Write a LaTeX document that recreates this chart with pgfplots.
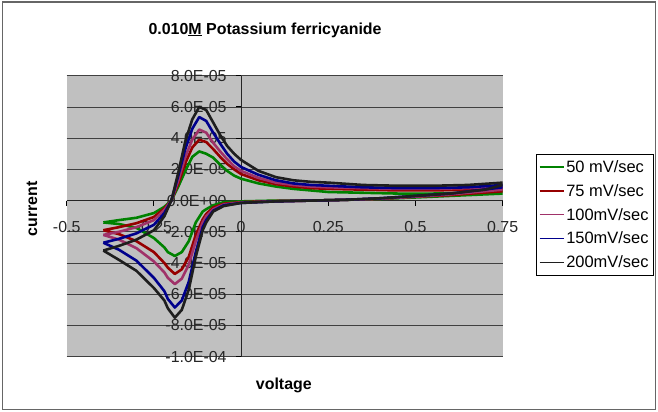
\documentclass[border=0pt]{standalone}
\usepackage{pgfplots}
\pgfplotsset{compat=1.18}
\usepackage{fontspec}
\setmainfont{Liberation Sans}
\definecolor{plotgray}{RGB}{192,192,192}
\definecolor{cvgreen}{RGB}{0,130,0}
\definecolor{cvred}{RGB}{150,0,0}
\definecolor{cvmag}{RGB}{160,50,105}
\definecolor{cvblue}{RGB}{0,0,140}
\definecolor{cvblack}{RGB}{30,30,30}
\pgfplotsset{
  legend image code/.code={\draw[#1, line width=1.2bp] (0bp,0bp) -- (24bp,0bp);},
  every axis title shift=0pt,
}
\begin{document}
\begin{tikzpicture}
\path[use as bounding box] (-66.7bp,-55.3bp) rectangle (591.3bp,356.7bp);
\draw[line width=1.2bp, color=black!60] (-64.2bp,-52.8bp) rectangle (588.8bp,354.7bp);
\begin{axis}[
  at={(0,0)}, anchor=south west,
  scale only axis, width=436bp, height=281bp,
  xmin=-0.5, xmax=0.75, ymin=-1e-4, ymax=8e-5,
  axis x line=middle, axis y line=middle,
  axis line style={-, line width=1bp, black!85},
  hide obscured x ticks=false, hide obscured y ticks=false,
  xtick={-0.5,-0.25,0,0.25,0.5,0.75},
  xticklabels={-0.5,-0.25,0,0.25,0.5,0.75},
  ytick={-1e-4,-8e-5,-6e-5,-4e-5,-2e-5,0,2e-5,4e-5,6e-5,8e-5},
  yticklabels={-1.0E-04,-8.0E-05,-6.0E-05,-4.0E-05,-2.0E-05,0.0E+00,2.0E-05,4.0E-05,6.0E-05,8.0E-05},
  scaled y ticks=false, scaled x ticks=false,
  ymajorgrids, grid style={black!75, line width=0.8bp},
  axis background/.style={fill=plotgray},
  tick style={black, line width=1bp},
  major tick length=5bp,
  xtick align=outside, ytick align=outside,
  tick label style={font=\fontsize{16}{19}\selectfont, text=black!85},
  xticklabel style={yshift=-12bp},
  yticklabel style={xshift=-6bp},
  title={0.010\underline{M} Potassium ferricyanide},
  title style={at={(0.455,1.1626)}, anchor=center, font=\fontsize{16}{19}\selectfont\bfseries},
  xlabel={voltage},
  xlabel style={at={(axis description cs:0.498,-0.1007)}, anchor=center, font=\fontsize{16}{19}\selectfont\bfseries},
  ylabel={current},
  ylabel style={at={(axis description cs:-0.0796,0.5256)}, anchor=center, rotate=90, font=\fontsize{16}{19}\selectfont\bfseries},
  legend style={at={(1.0757,0.7214)}, anchor=north west, draw=black, line width=0.8bp, fill=white,
    font=\fontsize{16.5}{19}\selectfont, row sep=6.5bp, inner xsep=3bp, inner ysep=4bp},
  legend cell align=left,
  every axis plot/.append style={line width=2.6bp, line join=round},
]
\addplot[cvgreen] coordinates {
(-0.395,-1.4e-5) (-0.35,-1.25e-5) (-0.30,-1.1e-5) (-0.25,-0.8e-5) (-0.22,-0.4e-5) (-0.20,0) (-0.18,0.9e-5) (-0.16,1.9e-5) (-0.14,2.8e-5) (-0.12,3.15e-5) (-0.10,3.0e-5) (-0.08,2.75e-5) (-0.06,2.3e-5) (-0.04,1.9e-5) (-0.02,1.6e-5) (0,1.4e-5) (0.05,1.1e-5) (0.10,0.9e-5) (0.15,0.75e-5) (0.20,0.65e-5) (0.25,0.55e-5) (0.35,0.5e-5) (0.45,0.45e-5) (0.55,0.45e-5) (0.65,0.5e-5) (0.75,0.6e-5)
(0.75,0.45e-5) (0.6,0.3e-5) (0.5,0.2e-5) (0.4,0.1e-5) (0.3,0.05e-5) (0.2,0) (0.1,0) (0,-0.05e-5) (-0.05,-0.1e-5) (-0.08,-0.3e-5) (-0.10,-0.55e-5) (-0.11,-0.7e-5) (-0.13,-1.4e-5) (-0.15,-2.6e-5) (-0.17,-3.3e-5) (-0.19,-3.55e-5) (-0.21,-3.3e-5) (-0.22,-3.0e-5) (-0.25,-2.4e-5) (-0.30,-1.75e-5) (-0.35,-1.5e-5) (-0.395,-1.4e-5)
};
\addlegendentry{50 mV/sec}
\addplot[cvred] coordinates {
(-0.395,-1.9e-5) (-0.35,-1.7e-5) (-0.30,-1.45e-5) (-0.25,-1.05e-5) (-0.22,-0.5e-5) (-0.20,0) (-0.18,1.1e-5) (-0.16,2.4e-5) (-0.14,3.4e-5) (-0.12,3.9e-5) (-0.10,3.75e-5) (-0.08,3.3e-5) (-0.06,2.8e-5) (-0.04,2.35e-5) (-0.02,2.0e-5) (0,1.7e-5) (0.05,1.3e-5) (0.10,1.05e-5) (0.15,0.9e-5) (0.20,0.8e-5) (0.25,0.75e-5) (0.35,0.7e-5) (0.45,0.65e-5) (0.55,0.65e-5) (0.65,0.7e-5) (0.75,0.8e-5)
(0.75,0.6e-5) (0.6,0.35e-5) (0.5,0.25e-5) (0.4,0.12e-5) (0.3,0.05e-5) (0.2,0) (0.1,-0.03e-5) (0,-0.1e-5) (-0.05,-0.2e-5) (-0.08,-0.45e-5) (-0.10,-0.85e-5) (-0.11,-1.2e-5) (-0.13,-2.2e-5) (-0.15,-3.6e-5) (-0.17,-4.4e-5) (-0.19,-4.7e-5) (-0.21,-4.3e-5) (-0.22,-4.0e-5) (-0.25,-3.3e-5) (-0.30,-2.6e-5) (-0.35,-2.15e-5) (-0.395,-1.9e-5)
};
\addlegendentry{75 mV/sec}
\addplot[cvmag] coordinates {
(-0.395,-2.2e-5) (-0.35,-2.0e-5) (-0.30,-1.7e-5) (-0.25,-1.25e-5) (-0.22,-0.6e-5) (-0.20,0) (-0.18,1.3e-5) (-0.16,2.8e-5) (-0.14,3.9e-5) (-0.12,4.55e-5) (-0.10,4.35e-5) (-0.08,3.7e-5) (-0.06,3.15e-5) (-0.04,2.65e-5) (-0.02,2.2e-5) (0,1.9e-5) (0.05,1.45e-5) (0.10,1.15e-5) (0.15,1.0e-5) (0.20,0.9e-5) (0.25,0.85e-5) (0.35,0.8e-5) (0.45,0.75e-5) (0.55,0.75e-5) (0.65,0.8e-5) (0.75,0.9e-5)
(0.75,0.7e-5) (0.6,0.4e-5) (0.5,0.25e-5) (0.4,0.12e-5) (0.3,0.05e-5) (0.2,0) (0.1,-0.05e-5) (0,-0.12e-5) (-0.05,-0.25e-5) (-0.08,-0.55e-5) (-0.10,-1.0e-5) (-0.11,-1.4e-5) (-0.13,-2.6e-5) (-0.15,-4.1e-5) (-0.17,-5.0e-5) (-0.19,-5.35e-5) (-0.21,-4.95e-5) (-0.22,-4.6e-5) (-0.25,-3.9e-5) (-0.30,-3.05e-5) (-0.35,-2.5e-5) (-0.395,-2.2e-5)
};
\addlegendentry{100mV/sec}
\addplot[cvblue] coordinates {
(-0.395,-2.7e-5) (-0.35,-2.45e-5) (-0.30,-2.1e-5) (-0.25,-1.55e-5) (-0.22,-0.8e-5) (-0.20,0) (-0.18,1.6e-5) (-0.16,3.3e-5) (-0.14,4.6e-5) (-0.12,5.35e-5) (-0.10,5.1e-5) (-0.08,4.35e-5) (-0.06,3.65e-5) (-0.04,3.0e-5) (-0.02,2.5e-5) (0,2.15e-5) (0.05,1.65e-5) (0.10,1.3e-5) (0.15,1.1e-5) (0.20,1.0e-5) (0.25,0.95e-5) (0.35,0.85e-5) (0.45,0.8e-5) (0.55,0.8e-5) (0.65,0.85e-5) (0.75,1.0e-5)
(0.75,0.85e-5) (0.6,0.45e-5) (0.5,0.3e-5) (0.4,0.15e-5) (0.3,0.05e-5) (0.2,0) (0.1,-0.05e-5) (0,-0.15e-5) (-0.05,-0.3e-5) (-0.08,-0.65e-5) (-0.10,-1.25e-5) (-0.11,-1.7e-5) (-0.13,-3.3e-5) (-0.15,-5.2e-5) (-0.17,-6.4e-5) (-0.19,-6.85e-5) (-0.21,-6.3e-5) (-0.22,-5.8e-5) (-0.25,-4.95e-5) (-0.30,-3.85e-5) (-0.35,-3.15e-5) (-0.395,-2.7e-5)
};
\addlegendentry{150mV/sec}
\addplot[cvblack] coordinates {
(-0.395,-3.2e-5) (-0.35,-2.9e-5) (-0.30,-2.5e-5) (-0.25,-1.9e-5) (-0.22,-1.0e-5) (-0.20,0) (-0.18,1.8e-5) (-0.16,3.8e-5) (-0.14,5.2e-5) (-0.12,6.0e-5) (-0.10,5.8e-5) (-0.08,5.0e-5) (-0.06,4.2e-5) (-0.04,3.5e-5) (-0.02,3.0e-5) (0,2.6e-5) (0.05,1.9e-5) (0.10,1.5e-5) (0.15,1.3e-5) (0.20,1.2e-5) (0.25,1.15e-5) (0.35,1.0e-5) (0.45,0.95e-5) (0.55,0.95e-5) (0.65,1.0e-5) (0.75,1.15e-5)
(0.75,1.0e-5) (0.70,0.7e-5) (0.6,0.45e-5) (0.5,0.3e-5) (0.4,0.15e-5) (0.3,0.05e-5) (0.2,0) (0.1,-0.05e-5) (0,-0.15e-5) (-0.05,-0.35e-5) (-0.08,-0.7e-5) (-0.10,-1.4e-5) (-0.11,-1.9e-5) (-0.13,-3.6e-5) (-0.15,-5.7e-5) (-0.17,-7.0e-5) (-0.19,-7.5e-5) (-0.21,-6.9e-5) (-0.22,-6.4e-5) (-0.25,-5.6e-5) (-0.30,-4.5e-5) (-0.35,-3.8e-5) (-0.395,-3.2e-5)
};
\addlegendentry{200mV/sec}
\end{axis}
\end{tikzpicture}
\end{document}
